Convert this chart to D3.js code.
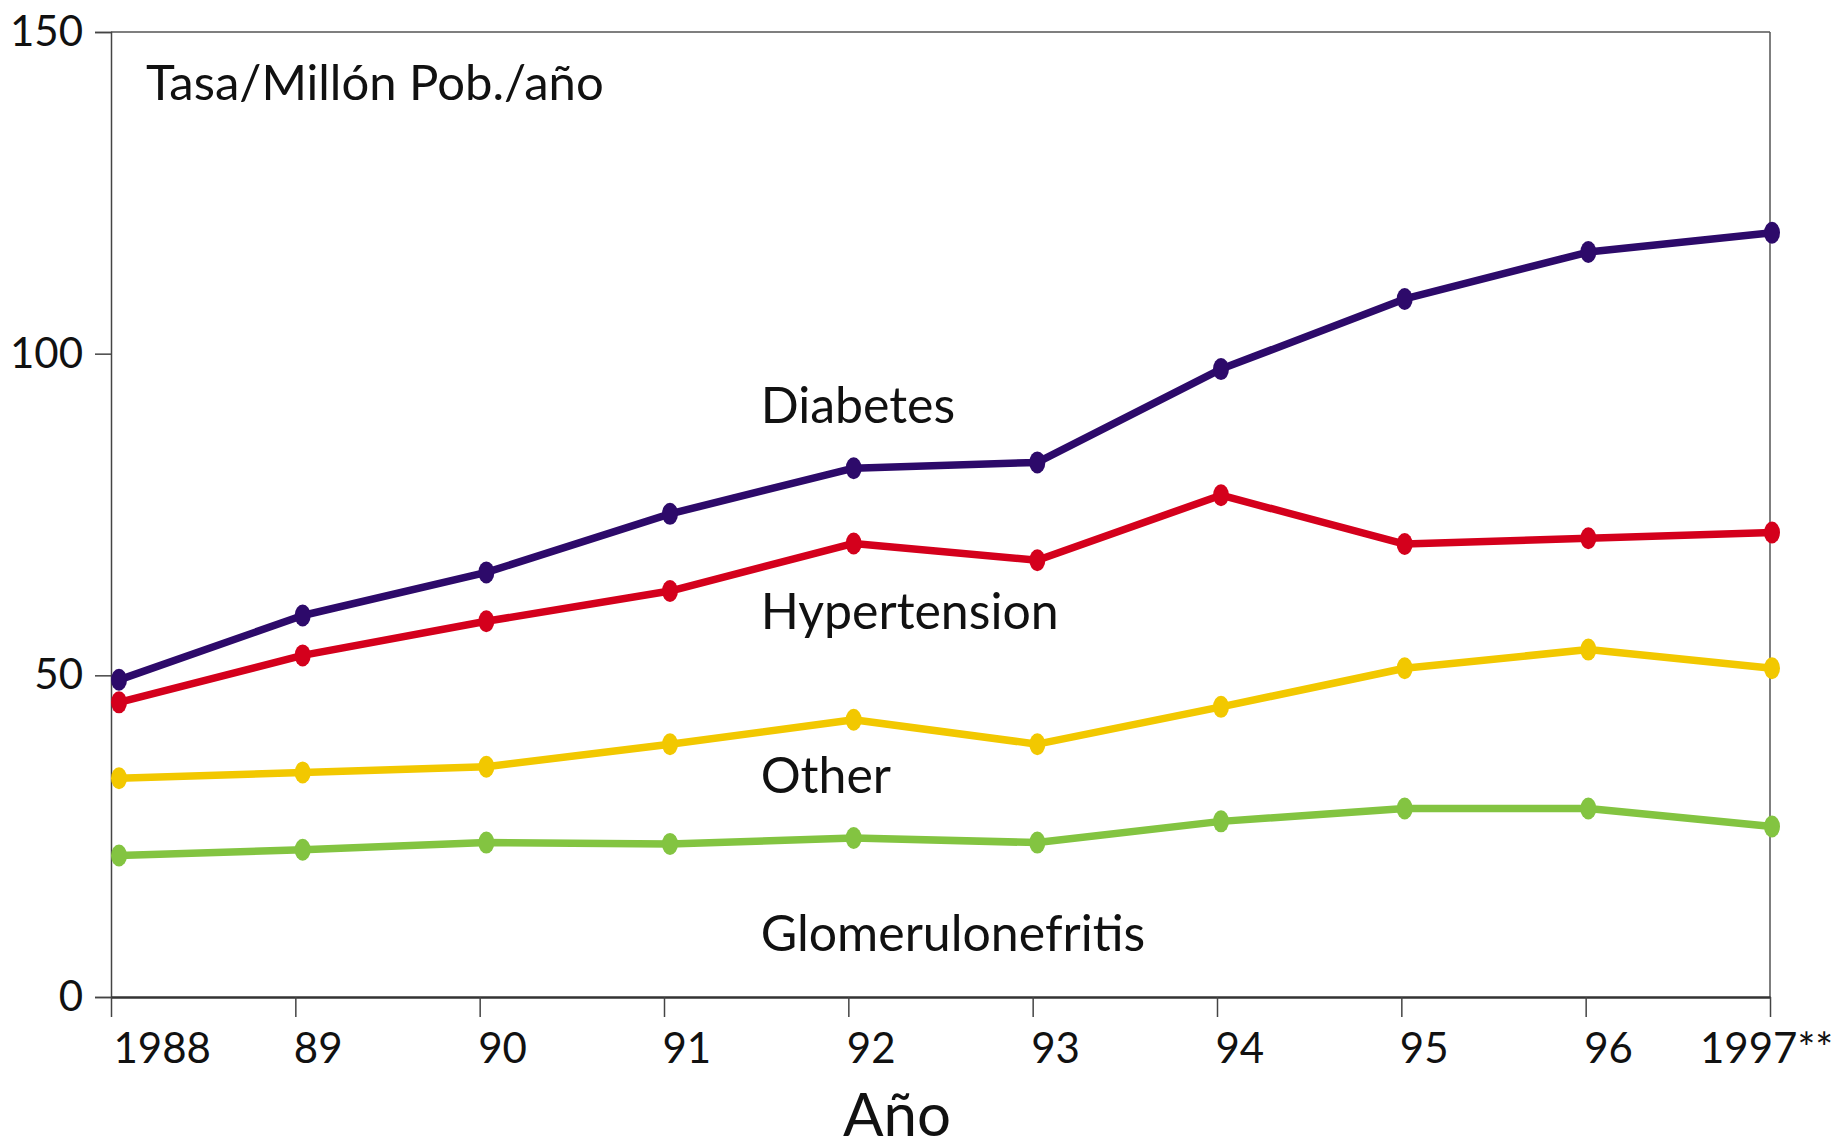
<!DOCTYPE html>
<html>
<head>
<meta charset="utf-8">
<script src="https://cdn.jsdelivr.net/npm/d3@7"></script>
<style>
  html, body { margin: 0; padding: 0; background: #fff; }
  svg { display: block; }
  text { font-family: Lato, "Open Sans", sans-serif; fill: #111; }
</style>
</head>
<body>
<script>
const years = ["1988", "89", "90", "91", "92", "93", "94", "95", "96", "1997**"];
const yTicks = [0, 50, 100, 150];
const diabetes = [49.3, 59.3, 66.0, 75.1, 82.2, 83.1, 97.6, 108.5, 115.8, 118.8];
const hypertension = [45.8, 53.1, 58.4, 63.1, 70.5, 67.9, 78.0, 70.4, 71.3, 72.2];
const other = [34.0, 34.9, 35.8, 39.3, 43.1, 39.3, 45.1, 51.1, 54.0, 51.1];
const glomerulo = [22.0, 22.9, 24.0, 23.8, 24.7, 24.0, 27.3, 29.3, 29.3, 26.5];
const seriesNames = ["Diabetes", "Hypertension", "Other", "Glomerulonefritis"];
const seriesColors = ["#2d0a6a", "#d4001c", "#f2c800", "#83c441"];
const seriesValues = [diabetes, hypertension, other, glomerulo];
const labelValues = [89.2, 57.2, 31.7, 7.2];

const W = 1834, H = 1148;
const xL = 111, xR = 1770, yT = 32, yB = 997;

const svg = d3.select("body").append("svg").attr("width", W).attr("height", H);

const y = d3.scaleLinear().domain([0, 150]).range([yB, yT]);
const xAxisScale = d3.scalePoint().domain(years).range([xL, xR]);
const x = d3.scalePoint().domain(years).range([xL + 8, xR + 2]);

// frame top & right
svg.append("line").attr("x1", xL).attr("x2", xR).attr("y1", yT).attr("y2", yT)
  .attr("stroke", "#555").attr("stroke-width", 1.5);
svg.append("line").attr("x1", xR).attr("x2", xR).attr("y1", yT).attr("y2", yB)
  .attr("stroke", "#555").attr("stroke-width", 1.5);

// y axis
const gy = svg.append("g").attr("transform", `translate(${xL},0)`)
  .call(d3.axisLeft(y).tickValues(yTicks).tickSize(16).tickPadding(12));
gy.select(".domain").attr("stroke", "#444").attr("stroke-width", 1.5);
gy.selectAll(".tick line").attr("stroke", "#444").attr("stroke-width", 1.5);
gy.selectAll(".tick text").style("font-size", "42px").attr("fill", "#111")
  .style("font-family", "Lato, sans-serif");

// x axis
const gx = svg.append("g").attr("transform", `translate(0,${yB})`)
  .call(d3.axisBottom(xAxisScale).tickSize(20).tickPadding(16).tickSizeOuter(0));
gx.select(".domain").attr("stroke", "#333").attr("stroke-width", 2.5);
gx.selectAll(".tick line").attr("stroke", "#444").attr("stroke-width", 1.5);
gx.selectAll(".tick text").style("font-size", "42px").attr("fill", "#111")
  .style("font-family", "Lato, sans-serif")
  .attr("text-anchor", (d, i) => i === years.length - 1 ? "middle" : "start")
  .attr("dx", (d, i) => i === 0 ? 2 : (i === years.length - 1 ? -4 : -2));

// lines
const line = d3.line().x((d, i) => x(years[i])).y(d => y(d));
seriesValues.forEach((vals, k) => {
  svg.append("path").datum(vals).attr("d", line)
    .attr("fill", "none").attr("stroke", seriesColors[k]).attr("stroke-width", 7.5)
    .attr("stroke-linejoin", "round");
  svg.append("g").selectAll("ellipse").data(vals).join("ellipse")
    .attr("cx", (d, i) => x(years[i])).attr("cy", d => y(d))
    .attr("rx", 8).attr("ry", 11).attr("fill", seriesColors[k]);
});

// series labels
svg.append("g").selectAll("text").data(seriesNames).join("text")
  .attr("x", x("92") - 93)
  .attr("y", (d, i) => y(labelValues[i]))
  .style("font-size", "50px")
  .text(d => d);

// title inside plot
svg.append("text").attr("x", 146).attr("y", 100).style("font-size", "49px")
  .text("Tasa/Millón Pob./año");

// x axis title
svg.append("text").attr("x", 897).attr("y", 1136).attr("text-anchor", "middle")
  .style("font-size", "60px").text("Año");
</script>
</body>
</html>
